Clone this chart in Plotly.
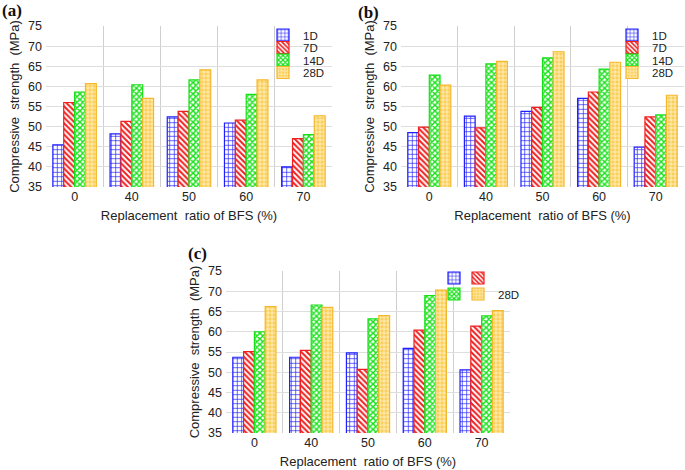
import plotly.graph_objects as go

categories = ["0", "40", "50", "60", "70"]
series_names = ["1D", "7D", "14D", "28D"]

# (a)
a_1d = [45.5, 48.2, 52.4, 50.9, 40.0]
a_7d = [56.0, 51.3, 53.8, 51.6, 47.0]
a_14d = [58.6, 60.4, 61.6, 58.0, 48.0]
a_28d = [60.7, 57.0, 64.1, 61.6, 52.7]

# (b)
b_1d = [48.5, 52.6, 53.8, 57.0, 44.9]
b_7d = [49.9, 49.7, 54.8, 58.6, 52.4]
b_14d = [62.8, 65.6, 67.1, 64.3, 52.9]
b_28d = [60.3, 66.2, 68.6, 66.0, 57.8]

# (c)
c_1d = [53.7, 53.7, 54.8, 55.9, 50.6]
c_7d = [55.1, 55.4, 50.7, 60.4, 61.4]
c_14d = [60.0, 66.6, 63.2, 68.9, 63.9]
c_28d = [66.2, 66.0, 64.0, 70.3, 65.2]

c_legend_names = ["\u2009", "\u2009", "\u2009", "28D"]

y_ticks = [35, 40, 45, 50, 55, 60, 65, 70, 75]

W, H = 685, 470

styles = [
    dict(bg="white", fg="#1f1fff", line="#1f1fff", shape="+", size=4.5, sol=0.28),
    dict(bg="white", fg="#f01e1e", line="#f01e1e", shape="\\", size=4, sol=0.5),
    dict(bg="white", fg="#18e018", line="#18e018", shape="x", size=4, sol=0.6),
    dict(bg="#fbd05a", fg="white", line="#f5b82a", shape="+", size=4, sol=0.25),
]

panels = [
    ("x", "y", [a_1d, a_7d, a_14d, a_28d], series_names),
    ("x2", "y2", [b_1d, b_7d, b_14d, b_28d], series_names),
    ("x3", "y3", [c_1d, c_7d, c_14d, c_28d], c_legend_names),
]

# legend anchor positions (pixels: left x, centre y)
legend_pos = [
    [(263, 35), (263, 47.5), (263, 60), (263, 72.5)],
    [(612, 35), (612, 47.5), (612, 60), (612, 72.5)],
    [(434, 278), (458, 278), (434, 294), (458, 294)],
]

legfont = dict(family="Liberation Sans, Arial, sans-serif", size=11.5, color="#222")

fig = go.Figure()
layout_legends = {}
li = 0
for pi, (xa, ya, vals, names) in enumerate(panels):
    for si, v in enumerate(vals):
        st = styles[si]
        li += 1
        lname = "legend" if li == 1 else f"legend{li}"
        fig.add_trace(go.Bar(
            x=categories, y=v, xaxis=xa, yaxis=ya, name=names[si],
            legend=lname,
            marker=dict(color=st["bg"], line=dict(color=st["line"], width=1.2),
                        pattern=dict(shape=st["shape"], fgcolor=st["fg"], bgcolor=st["bg"],
                                     size=st["size"], solidity=st["sol"], fillmode="replace")),
        ))
        px, py = legend_pos[pi][si]
        layout_legends[lname] = dict(x=px / W, y=1 - py / H, xanchor="left", yanchor="middle",
                                     font=legfont, bgcolor="rgba(255,255,255,0)",
                                     itemwidth=30, borderwidth=0)


def dx(a, b):
    return [a / W, b / W]


def dy(top, bottom):
    return [1 - bottom / H, 1 - top / H]


font_tick = dict(family="Liberation Sans, Arial, sans-serif", size=12.5, color="#222")
font_title = dict(family="Liberation Sans, Arial, sans-serif", size=13, color="#222")


def xaxis(domain, anchor):
    return dict(domain=domain, anchor=anchor, type="category", tickson="boundaries",
                showgrid=True, gridcolor="#cfcfcf", gridwidth=1, ticks="", showline=False,
                tickfont=font_tick, zeroline=False, automargin=False,
                title=dict(text="Replacement  ratio of BFS (%)", font=font_title, standoff=8))


def yaxis(domain, anchor):
    return dict(domain=domain, anchor=anchor, range=[35, 75], tickvals=y_ticks,
                showgrid=True, gridcolor="#dedede", gridwidth=1, zeroline=False, showline=False,
                ticks="", tickfont=font_tick, automargin=False, ticklabelstandoff=3,
                title=dict(text="Compressive  strength  (MPa)", font=font_title, standoff=5))


fig.update_layout(
    width=W, height=H, margin=dict(l=0, r=0, t=0, b=0, autoexpand=False),
    paper_bgcolor="white", plot_bgcolor="white",
    barmode="group", bargap=0.24, bargroupgap=0,
    xaxis=xaxis(dx(46, 332), "y"), yaxis=yaxis(dy(26, 187), "x"),
    xaxis2=xaxis(dx(401, 684), "y2"), yaxis2=yaxis(dy(26, 187), "x2"),
    xaxis3=xaxis(dx(226, 510), "y3"), yaxis3=yaxis(dy(271, 433), "x3"),
    showlegend=True,
    annotations=[
        dict(text="<b>(a)</b>", x=0, y=1 - 10 / H, xref="paper", yref="paper", xanchor="left",
             yanchor="middle", showarrow=False,
             font=dict(family="Liberation Serif, Times New Roman, serif", size=17, color="#111")),
        dict(text="<b>(b)</b>", x=356 / W, y=1 - 13 / H, xref="paper", yref="paper", xanchor="left",
             yanchor="middle", showarrow=False,
             font=dict(family="Liberation Serif, Times New Roman, serif", size=17, color="#111")),
        dict(text="<b>(c)</b>", x=186 / W, y=1 - 253 / H, xref="paper", yref="paper", xanchor="left",
             yanchor="middle", showarrow=False,
             font=dict(family="Liberation Serif, Times New Roman, serif", size=17, color="#111")),
    ],
)
fig.update_layout(**layout_legends)

fig.write_html(
    "out.html",
    config={"displayModeBar": False},
    post_script="document.body.style.margin='0';document.body.style.overflow='hidden';",
)
